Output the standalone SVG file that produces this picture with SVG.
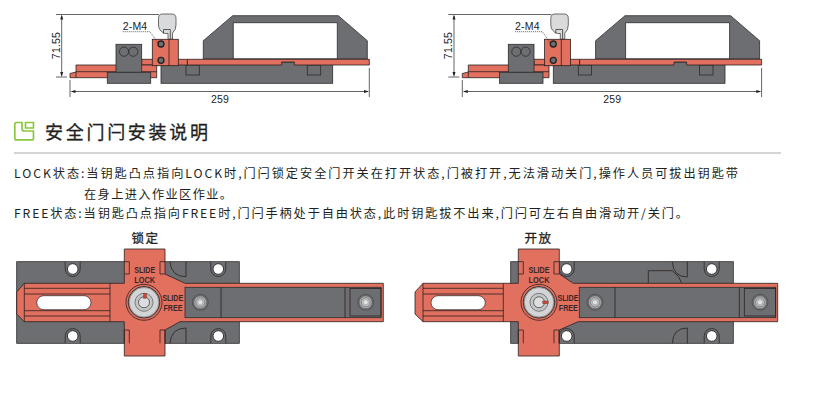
<svg xmlns="http://www.w3.org/2000/svg" xmlns:xlink="http://www.w3.org/1999/xlink" width="839" height="404" viewBox="0 0 839 404">
<style>
.g{fill:#6d6e71;stroke:#2b2b2d;stroke-width:.8}
.r{fill:#e1705f;stroke:#2b2020;stroke-width:.8}
.l{fill:none;stroke:#2b2020;stroke-width:.8}
.d{fill:none;stroke:#222;stroke-width:.7}
.ar{fill:#222}
.dim{font-family:"Liberation Sans",Arial,sans-serif;font-size:10.500px;fill:#222;letter-spacing:.2px}
.cn{font-family:"Noto Sans CJK SC",sans-serif;fill:#231f20}
.b{font-size:12.2px}
.h{stroke:#231f20;stroke-width:.3px}
.sl{font-family:"Liberation Sans",Arial,sans-serif;font-size:8.800px;font-weight:bold;fill:#3a2626;text-anchor:middle}
.hw{fill:#fff;stroke:#2b2b2d;stroke-width:.9}
</style>
<defs>
<g id="side">
<path class="g" d="M203.300 59V40.700L232.700 15.700H338.300L367.300 40.700V59ZM233.300 59H337.300V22.700H233.300Z" fill-rule="evenodd"/>
<rect class="g" x="161" y="62" width="171.700" height="21.300"/>
<rect class="g" x="186" y="65" width="13.300" height="10"/>
<rect class="g" x="307.300" y="65" width="13.400" height="10"/>
<path class="r" d="M187.300 59.300H369.300V65H294.300V62H281.700V65H187.300Z"/>
<path class="r" d="M141.700 59.300H187.300V65H141.700Z"/>
<path class="r" d="M76 65H156.700V77.700H70V73.500L76 72Z"/>
<path class="l" d="M76 71.700H156.700M76 72V77.700"/>
<rect class="g" x="116" y="44.300" width="25.700" height="28"/>
<circle class="d" cx="124" cy="51.700" r="4.600"/><circle class="d" cx="133.300" cy="51.700" r="4.600"/>
<rect class="g" x="107.300" y="72.300" width="43.400" height="11"/>
<path d="M162.500 14H172Q176 14 176 18.500V25Q176 30 172.500 33V39.300H168V33.500H165Q158.500 31 158.500 25V18.500Q158.500 14 162.500 14Z" fill="#d9dadb" stroke="#333" stroke-width=".7"/>
<path class="d" d="M163.500 33.500V29.500H170.300V39.300"/>
<rect class="r" x="152.300" y="39.300" width="26" height="26.400"/>
<path class="l" d="M169 39.300V65.700"/>
<circle cx="161" cy="44" r="3" fill="#6d6e71" stroke="#222" stroke-width="1.300"/>
<circle cx="161" cy="60.300" r="3" fill="#6d6e71" stroke="#222" stroke-width="1.300"/>
<path class="d" d="M56 14.500H159M56 77H67M70 80V97M369.300 68V97"/>
<path class="d" d="M61.700 16V75M72 91.500H367.500"/>
<path class="ar" d="M61.700 14.500l-1.500 5h3zM61.700 77l-1.500-5h3zM70.500 91.500l5-1.500v3zM369 91.500l-5-1.500v3z"/>
<text class="dim" x="220" y="102.500" text-anchor="middle">259</text>
<text class="dim" transform="translate(60 45.500) rotate(-90)" text-anchor="middle">71.55</text>
<text class="dim" x="122.700" y="30">2-M4</text>
<path d="M122.700 31.700H150L158.300 43.300" fill="none" stroke="#222" stroke-width=".6" stroke-dasharray="1.200 .8"/>
</g>
<g id="hole">
<path class="g" d="M-7.500 -7.300V0A7.500 7.500 0 0 0 7.500 0V-7.300"/>
<circle class="hw" r="5.300"/>
</g>
<g id="bolt">
<circle r="8" fill="#6d6e71" stroke="#3c3c3e" stroke-width=".5"/><circle r="6.500" fill="#a9aaac" stroke="#4a4a4c" stroke-width=".5"/><circle r="4.500" fill="#bfc0c2" stroke="#55565a" stroke-width=".5"/><circle r="2.500" fill="#e4e4e4" stroke="#777" stroke-width=".4"/>
</g>
<g id="key">
<circle r="18" class="l"/><circle r="15.800" fill="#8c8d8f" stroke="#2b2020" stroke-width=".8"/>
<circle r="14.700" fill="#d3d4d5" stroke="#777" stroke-width=".5"/>
<circle r="9" fill="#c4c5c7" stroke="#444" stroke-width=".6"/>
<circle r="5.500" fill="#dcddde" stroke="#333" stroke-width=".7"/>
</g>
<g id="nubs"><path class="l" d="M0 0H5V12.300H0M40.700 0H35.700V12.300H40.700M0 81.600V68.300H5V81.600M40.700 81.600V68.300H35.700V81.600"/></g>
</defs>

<g id="side-view-left"><use href="#side" xlink:href="#side"/></g>
<g id="side-view-right"><use href="#side" xlink:href="#side" transform="translate(392.300 0)"/></g>

<g id="section-title">
<path d="M22 122.500H16.500Q14.800 122.500 14.800 124.200V138.200Q14.800 139.900 16.500 139.900H31.800Q33.500 139.900 33.500 138.200V131H24.300Q22 131 22 129ZM25.500 122.500H33.500V128H25.500Z" fill="none" stroke="#8cc63f" stroke-width="1.700" stroke-linejoin="round"/>
<text class="cn h" x="45" y="139" font-size="18" textLength="163">安全门闩安装说明</text>
<path d="M14 153H781" stroke="#aaa" stroke-width="1"/>
</g>

<g id="description">
<text class="cn b" x="14" y="178" textLength="724">LOCK状态:当钥匙凸点指向LOCK时,门闩锁定安全门开关在打开状态,门被打开,无法滑动关门,操作人员可拔出钥匙带</text>
<text class="cn b" x="84" y="199" textLength="148">在身上进入作业区作业。</text>
<text class="cn b" x="14" y="218" textLength="674">FREE状态:当钥匙凸点指向FREE时,门闩手柄处于自由状态,此时钥匙拔不出来,门闩可左右自由滑动开/关门。</text>
</g>

<g id="lock-state">
<text class="cn h" x="145.500" y="243" font-size="12.500" text-anchor="middle" letter-spacing="1.500">锁定</text>
<rect class="g" x="16.700" y="261.700" width="222.600" height="81.600"/>
<use href="#hole" xlink:href="#hole" x="72.700" y="269"/>
<use href="#hole" xlink:href="#hole" x="218.300" y="269"/>
<use href="#hole" xlink:href="#hole" transform="translate(72.700 336) scale(1 -1)"/>
<use href="#hole" xlink:href="#hole" transform="translate(218.300 336) scale(1 -1)"/>
<path class="l" d="M170 261.700Q171 276.700 186 276.700V261.700M170 343.300Q171 328 186 328V343.300"/>
<path class="r" d="M24.300 283.300H124.300V249H165V274L185 283.300H383.300V321.700H180L165 330V356H124.300V321.700H24.300L16.700 314V292Z"/>
<use href="#nubs" xlink:href="#nubs" x="124.300" y="261.700"/>
<path class="l" d="M24.300 283.300V321.700M110 283.300V321.700M24.300 288.300H110M24.300 294H110M24.300 310.700H110M24.300 316H110"/>
<rect x="36.700" y="295.700" width="54.300" height="14" rx="7" fill="#fff" stroke="#2b2020" stroke-width=".7"/>
<rect class="g" x="185" y="287.300" width="196" height="30.400"/>
<path class="l" d="M221 287.300V317.700M345 287.300V317.700"/>
<rect class="l" x="350" y="288.500" width="31" height="27.500"/>
<use href="#bolt" xlink:href="#bolt" x="200.300" y="302.300"/>
<use href="#bolt" xlink:href="#bolt" x="365.700" y="302.300"/>
<use href="#key" xlink:href="#key" x="144" y="302.300"/>
<rect x="143.500" y="293.300" width="3" height="5" fill="#d8412f" stroke="#333" stroke-width=".3"/>
<text class="sl" x="144.700" y="273.300" textLength="21" lengthAdjust="spacingAndGlyphs">SLIDE</text><text class="sl" x="144.700" y="283.300" textLength="21" lengthAdjust="spacingAndGlyphs">LOCK</text>
<text class="sl" x="172.700" y="301" textLength="21" lengthAdjust="spacingAndGlyphs">SLIDE</text><text class="sl" x="173" y="310.700" textLength="19" lengthAdjust="spacingAndGlyphs">FREE</text>
</g>

<g id="free-state">
<text class="cn h" x="538.500" y="243" font-size="12.500" text-anchor="middle" letter-spacing="1.500">开放</text>
<rect class="g" x="510.700" y="261.700" width="222.600" height="81.600"/>
<use href="#hole" xlink:href="#hole" x="566.700" y="269"/>
<use href="#hole" xlink:href="#hole" x="711.700" y="269"/>
<use href="#hole" xlink:href="#hole" transform="translate(566.700 336) scale(1 -1)"/>
<use href="#hole" xlink:href="#hole" transform="translate(711.700 336) scale(1 -1)"/>
<path class="l" d="M672.300 261.700Q673 277 687.300 277V261.700M672.300 343.300Q673 328 687.300 328V343.300M648.300 283.300V270.700H672.300Q680 276 681.700 283.300"/>
<path class="r" d="M423 283.300H518.300V249H559.300V274L573.300 283.300H777.700V321.700H578L559.300 330V356H518.300V321.700H423L415 314V292Z"/>
<use href="#nubs" xlink:href="#nubs" x="518.300" y="261.700"/>
<path class="l" d="M423 283.300V321.700M503.300 283.300V321.700M423 288.300H503.300M423 294H503.300M423 310.700H503.300M423 316H503.300"/>
<rect x="431" y="295.700" width="54.300" height="14" rx="7" fill="#fff" stroke="#2b2020" stroke-width=".7"/>
<rect class="g" x="579.300" y="287.300" width="196.400" height="30.400"/>
<path class="l" d="M615 287.300V317.700M739.300 287.300V317.700"/>
<rect class="l" x="744.300" y="288.500" width="31.400" height="27.500"/>
<use href="#bolt" xlink:href="#bolt" x="595" y="302.300"/>
<use href="#bolt" xlink:href="#bolt" x="760" y="302.300"/>
<use href="#key" xlink:href="#key" x="539" y="302.300"/>
<rect x="542.700" y="301" width="5.500" height="2.800" fill="#d8412f" stroke="#333" stroke-width=".3"/>
<text class="sl" x="539" y="273.300" textLength="21" lengthAdjust="spacingAndGlyphs">SLIDE</text><text class="sl" x="539" y="283.300" textLength="21" lengthAdjust="spacingAndGlyphs">LOCK</text>
<text class="sl" x="568" y="301" textLength="21" lengthAdjust="spacingAndGlyphs">SLIDE</text><text class="sl" x="568.300" y="310.700" textLength="19" lengthAdjust="spacingAndGlyphs">FREE</text>
</g>
</svg>
